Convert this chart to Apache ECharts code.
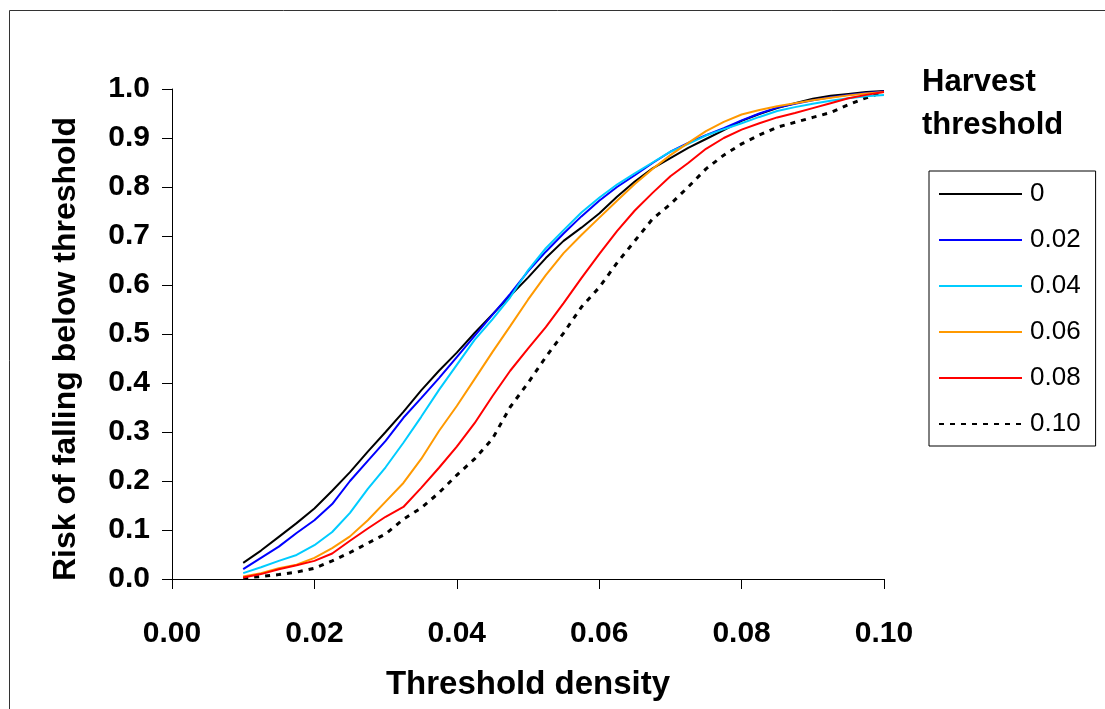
<!DOCTYPE html>
<html>
<head>
<meta charset="utf-8">
<script src="https://cdn.jsdelivr.net/npm/echarts@6/dist/echarts.min.js"></script>
<style>
html,body{margin:0;padding:0;background:#fff;}
#main{width:1105px;height:709px;}
</style>
</head>
<body>
<div id="main"></div>
<script>
const thresholdDensity = [0.01,0.0125,0.015,0.0175,0.02,0.0225,0.025,0.0275,0.03,0.0325,0.035,0.0375,0.04,0.0425,0.045,0.0475,0.05,0.0525,0.055,0.0575,0.06,0.0625,0.065,0.0675,0.07,0.0725,0.075,0.0775,0.08,0.0825,0.085,0.0875,0.09,0.0925,0.095,0.0975,0.10];
const seriesNames = ['0','0.02','0.04','0.06','0.08','0.10'];
const risk0   = [0.033,0.058,0.086,0.114,0.144,0.18,0.218,0.26,0.30,0.341,0.385,0.425,0.462,0.502,0.54,0.578,0.615,0.655,0.69,0.717,0.746,0.78,0.811,0.838,0.859,0.88,0.898,0.916,0.935,0.949,0.961,0.971,0.98,0.986,0.99,0.994,0.996];
const risk002 = [0.02,0.043,0.066,0.094,0.12,0.153,0.2,0.241,0.282,0.329,0.369,0.41,0.453,0.496,0.539,0.582,0.628,0.668,0.705,0.74,0.772,0.80,0.824,0.849,0.872,0.89,0.906,0.92,0.936,0.95,0.962,0.97,0.977,0.983,0.988,0.992,0.995];
const risk004 = [0.012,0.024,0.037,0.049,0.069,0.096,0.135,0.184,0.228,0.278,0.331,0.386,0.437,0.488,0.53,0.575,0.63,0.675,0.712,0.748,0.778,0.805,0.828,0.85,0.872,0.888,0.905,0.918,0.93,0.943,0.955,0.963,0.97,0.976,0.981,0.985,0.988];
const risk006 = [0.005,0.012,0.022,0.029,0.043,0.063,0.087,0.12,0.158,0.196,0.245,0.302,0.353,0.408,0.463,0.516,0.57,0.62,0.665,0.702,0.737,0.772,0.806,0.837,0.865,0.89,0.914,0.933,0.948,0.957,0.965,0.971,0.977,0.982,0.987,0.991,0.994];
const risk008 = [0.003,0.01,0.02,0.028,0.037,0.052,0.078,0.103,0.127,0.147,0.186,0.227,0.27,0.318,0.373,0.425,0.47,0.514,0.563,0.614,0.663,0.71,0.752,0.788,0.822,0.849,0.878,0.9,0.917,0.93,0.942,0.951,0.961,0.971,0.981,0.988,0.994];
const risk010 = [0.002,0.005,0.009,0.014,0.022,0.037,0.054,0.073,0.092,0.122,0.145,0.176,0.212,0.245,0.286,0.351,0.4,0.453,0.502,0.555,0.595,0.645,0.69,0.735,0.765,0.80,0.837,0.865,0.888,0.906,0.922,0.932,0.942,0.952,0.968,0.982,0.994];
const xTicks = [0,0.02,0.04,0.06,0.08,0.10];
const yTicks = [0,0.1,0.2,0.3,0.4,0.5,0.6,0.7,0.8,0.9,1.0];

const allRisk = [risk0,risk002,risk004,risk006,risk008,risk010];
const colors = ['#000000','#0000FF','#00CCFF','#FF9900','#FF0000','#000000'];
const FONT = 'Liberation Sans, Arial, sans-serif';

const chart = echarts.init(document.getElementById('main'));
chart.setOption({
  animation:false,
  backgroundColor:'#ffffff',
  title:{
    text:'Harvest\nthreshold',
    left:917, top:56,
    textStyle:{fontFamily:FONT,fontWeight:'bold',fontSize:31,color:'#000',lineHeight:43}
  },
  graphic:[{
    type:'rect', silent:true,
    shape:{x:9.5,y:10.5,width:1200,height:800},
    style:{fill:'none',stroke:'#333',lineWidth:1}
  }],
  legend:{
    orient:'vertical',
    left:929, top:171,
    itemWidth:83, itemHeight:14, itemGap:20,
    padding:[10,15,9,9],
    borderColor:'#000', borderWidth:1,
    itemStyle:{opacity:0},
    textStyle:{fontFamily:FONT,fontSize:26,color:'#000',padding:[0,0,0,3]},
    data:seriesNames
  },
  grid:{left:172,right:221,top:89,bottom:130,containLabel:false},
  xAxis:{
    type:'value', min:0, max:0.1, interval:0.02,
    name:'Threshold density', nameLocation:'middle', nameGap:89,
    nameTextStyle:{fontFamily:FONT,fontWeight:'bold',fontSize:33,color:'#000'},
    axisLine:{show:true,onZero:false,lineStyle:{color:'#000',width:1}},
    axisTick:{show:true,inside:false,length:10,lineStyle:{color:'#000'}},
    axisLabel:{fontFamily:FONT,fontWeight:'bold',fontSize:30,color:'#000',margin:40,
      formatter:v=>v.toFixed(2)},
    splitLine:{show:false}
  },
  yAxis:{
    type:'value', min:0, max:1, interval:0.1,
    name:'Risk of falling below threshold', nameLocation:'middle', nameGap:90,
    nameTextStyle:{fontFamily:FONT,fontWeight:'bold',fontSize:32,color:'#000',padding:[0,30,0,0]},
    axisLine:{show:true,lineStyle:{color:'#000',width:1}},
    axisTick:{show:true,inside:false,length:10,lineStyle:{color:'#000'}},
    axisLabel:{fontFamily:FONT,fontWeight:'bold',fontSize:30,color:'#000',margin:22,
      formatter:v=>v.toFixed(1)},
    splitLine:{show:false}
  },
  series: seriesNames.map((n,i)=>({
    name:n, type:'line', symbol:'none', showSymbol:false, smooth:false,
    data: thresholdDensity.map((x,j)=>[x, allRisk[i][j]]),
    lineStyle:{color:colors[i], width: i===5 ? 3 : 2, type: i===5 ? [5,6] : 'solid'},
    itemStyle:{color:colors[i]},
    z: i===5 ? 1 : 2
  }))
});
</script>
</body>
</html>
